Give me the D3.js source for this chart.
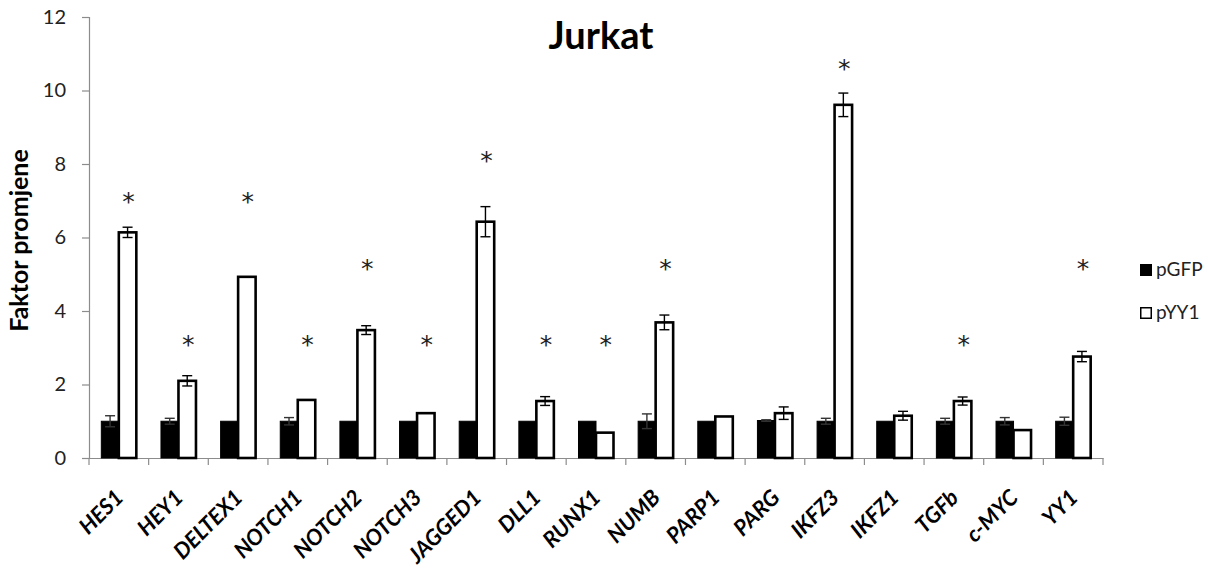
<!DOCTYPE html>
<html>
<head>
<meta charset="utf-8">
<script src="https://cdn.jsdelivr.net/npm/d3@7"></script>
<style>
  body { margin: 0; background: #fff; }
  svg { font-family: Lato, "Open Sans", sans-serif; }
</style>
</head>
<body>
<div id="chart"></div>
<script>
// podaci
const genes = ['HES1', 'HEY1', 'DELTEX1', 'NOTCH1', 'NOTCH2', 'NOTCH3', 'JAGGED1', 'DLL1', 'RUNX1',
  'NUMB', 'PARP1', 'PARG', 'IKFZ3', 'IKFZ1', 'TGFb', 'c-MYC', 'YY1'];
const series = ['pGFP', 'pYY1'];
const pGFP = [1.0, 1.0, 1.0, 1.0, 1.0, 1.0, 1.0, 1.0, 1.0, 1.0, 1.0, 1.02, 1.0, 1.0, 1.0, 1.0, 1.0];
const pGFPErr = [0.15, 0.08, 0, 0.1, 0, 0, 0, 0, 0, 0.2, 0, 0.02, 0.08, 0, 0.08, 0.1, 0.11];
const pYY1 = [6.14, 2.10, 4.93, 1.58, 3.48, 1.22, 6.43, 1.55, 0.69, 3.69, 1.13, 1.22, 9.61, 1.15, 1.55, 0.76, 2.76];
const pYY1Err = [0.14, 0.14, 0, 0, 0.12, 0, 0.41, 0.12, 0, 0.2, 0, 0.17, 0.32, 0.12, 0.11, 0, 0.14];
// visina zvjezdice (znacajnost), null = nema
const star = [7.16, 3.27, 7.16, 3.27, 5.34, 3.27, 8.28, 3.27, 3.27, 5.34, null, null, 10.78, null, 3.27, null, 5.34];
const yTicks = [0, 2, 4, 6, 8, 10, 12];

const width = 1208, height = 569;
const margin = { left: 89, right: 105, top: 17, bottom: 111 };

const svg = d3.select('#chart').append('svg')
  .attr('width', width)
  .attr('height', height);

const x0 = d3.scaleBand()
  .domain(genes)
  .range([margin.left, width - margin.right])
  .paddingInner(0)
  .paddingOuter(0);

const pairW = 35;
const x1 = d3.scaleBand()
  .domain(series)
  .range([(x0.bandwidth() - pairW) / 2, (x0.bandwidth() + pairW) / 2]);

const y = d3.scaleLinear()
  .domain([0, 12])
  .range([height - margin.bottom, margin.top]);

const axisColor = '#8c8c8c';

// y os
const yAxis = svg.append('g')
  .attr('transform', `translate(${margin.left},0)`)
  .call(d3.axisLeft(y).tickValues(yTicks).tickSize(7).tickPadding(16));
yAxis.select('.domain').attr('stroke', axisColor).attr('stroke-width', 1.2);
yAxis.selectAll('.tick line').attr('stroke', axisColor).attr('stroke-width', 1.2);
yAxis.selectAll('.tick text')
  .attr('font-size', 20)
  .attr('fill', '#222')
  .attr('font-family', 'Lato, sans-serif');

// x os
const xAxis = svg.append('g')
  .attr('transform', `translate(0,${y(0)})`)
  .call(d3.axisBottom(x0).tickSize(0).tickFormat(''));
xAxis.select('.domain').attr('stroke', axisColor).attr('stroke-width', 1.2);
xAxis.selectAll('.tick').remove();

// crtice izmedju kategorija
const bounds = genes.map(g => x0(g)).concat([x0(genes[genes.length - 1]) + x0.bandwidth()]);
svg.append('g')
  .selectAll('line')
  .data(bounds)
  .enter()
  .append('line')
  .attr('x1', d => d)
  .attr('x2', d => d)
  .attr('y1', y(0))
  .attr('y2', y(0) + 7)
  .attr('stroke', axisColor)
  .attr('stroke-width', 1.2);

// x oznake
svg.append('g')
  .selectAll('text')
  .data(genes)
  .enter()
  .append('text')
  .attr('transform', d => `translate(${x0(d) + x0.bandwidth() / 2 + 6},${y(0) + 41}) rotate(-45)`)
  .attr('text-anchor', 'end')
  .attr('font-size', 22)
  .attr('font-weight', 'bold')
  .attr('font-style', 'italic')
  .attr('fill', '#000')
  .text(d => d);

// stupci
const rows = genes.map((g, i) => ({
  gene: g,
  vals: [
    { s: 'pGFP', v: pGFP[i], e: pGFPErr[i] },
    { s: 'pYY1', v: pYY1[i], e: pYY1Err[i] }
  ]
}));

const groups = svg.append('g')
  .selectAll('g')
  .data(rows)
  .enter()
  .append('g')
  .attr('transform', d => `translate(${x0(d.gene)},0)`);

groups.selectAll('rect')
  .data(d => d.vals)
  .enter()
  .append('rect')
  .attr('x', d => x1(d.s))
  .attr('y', d => y(d.v))
  .attr('width', x1.bandwidth())
  .attr('height', d => y(0) - y(d.v))
  .attr('fill', d => d.s === 'pGFP' ? '#000' : '#fff')
  .attr('stroke', '#000')
  .attr('stroke-width', d => d.s === 'pGFP' ? 1 : 2.6);

// error bars
const capW = 10;
const errs = groups.selectAll('g.err')
  .data(d => d.vals.filter(v => v.e > 0))
  .enter()
  .append('g')
  .attr('class', 'err')
  .attr('stroke', d => d.s === 'pGFP' ? '#333' : '#000')
  .attr('stroke-width', 1.4);

errs.append('line')
  .attr('x1', d => x1(d.s) + x1.bandwidth() / 2)
  .attr('x2', d => x1(d.s) + x1.bandwidth() / 2)
  .attr('y1', d => y(d.v + d.e))
  .attr('y2', d => y(d.v - d.e));
errs.append('line')
  .attr('x1', d => x1(d.s) + x1.bandwidth() / 2 - capW / 2)
  .attr('x2', d => x1(d.s) + x1.bandwidth() / 2 + capW / 2)
  .attr('y1', d => y(d.v + d.e))
  .attr('y2', d => y(d.v + d.e));
errs.append('line')
  .attr('x1', d => x1(d.s) + x1.bandwidth() / 2 - capW / 2)
  .attr('x2', d => x1(d.s) + x1.bandwidth() / 2 + capW / 2)
  .attr('y1', d => y(d.v - d.e))
  .attr('y2', d => y(d.v - d.e));

// zvjezdice
svg.append('g')
  .selectAll('text')
  .data(genes.map((g, i) => ({ g, s: star[i] })).filter(d => d.s !== null))
  .enter()
  .append('text')
  .attr('x', d => x0(d.g) + x1('pYY1') + x1.bandwidth() / 2 + 1)
  .attr('y', d => y(d.s) + 15)
  .attr('text-anchor', 'middle')
  .attr('font-size', 25)
  .attr('font-family', '"DejaVu Sans", sans-serif')
  .attr('fill', '#222')
  .text('*');

// naslov
svg.append('text')
  .attr('x', 601)
  .attr('y', 49)
  .attr('text-anchor', 'middle')
  .attr('font-size', 38)
  .attr('font-weight', 'bold')
  .attr('fill', '#000')
  .text('Jurkat');

// naziv y osi
svg.append('text')
  .attr('transform', `translate(28,${(y(0) + y(12)) / 2 + 3}) rotate(-90)`)
  .attr('text-anchor', 'middle')
  .attr('font-size', 25)
  .attr('font-weight', 'bold')
  .attr('fill', '#000')
  .text('Faktor promjene');

// legenda
const legend = svg.append('g')
  .attr('transform', 'translate(1140,264)')
  .selectAll('g')
  .data(series)
  .enter()
  .append('g')
  .attr('transform', (d, i) => `translate(0,${i * 43})`);
legend.append('rect')
  .attr('x', 0.75)
  .attr('y', 0.75)
  .attr('width', 10.5)
  .attr('height', 10.5)
  .attr('fill', d => d === 'pGFP' ? '#000' : '#fff')
  .attr('stroke', '#000')
  .attr('stroke-width', 1.5);
legend.append('text')
  .attr('x', 16)
  .attr('y', 12)
  .attr('font-size', 19)
  .attr('fill', '#222')
  .text(d => d);
</script>
</body>
</html>
